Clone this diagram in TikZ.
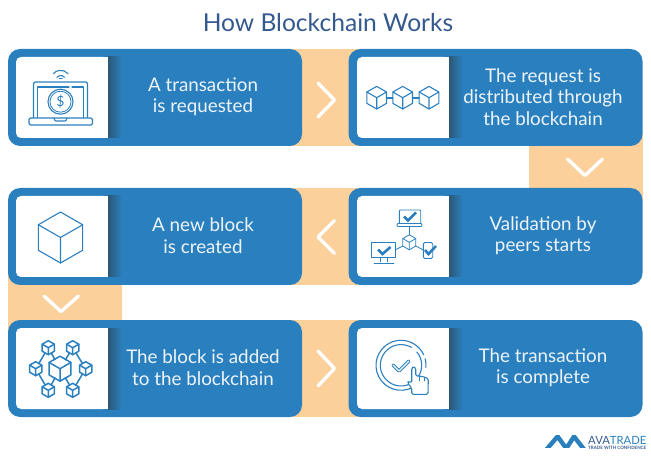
\documentclass[tikz,border=0pt]{standalone}
\usepackage{fontspec}
\setmainfont{Lato}
\usetikzlibrary{backgrounds}
\definecolor{cardblue}{HTML}{2A80BF}
\definecolor{bandorange}{HTML}{FBD09A}
\definecolor{titleblue}{HTML}{34598F}
\definecolor{shadowblue}{HTML}{2C5878}
\definecolor{softwhite}{HTML}{EEF4FA}
\tikzset{
  x=1pt,y=-1pt,
  card/.style={fill=cardblue,rounded corners=12pt,minimum width=294pt,minimum height=97pt,inner sep=0pt},
  cardtext/.style={text=softwhite,align=center,font=\fontsize{18.8}{21.5}\selectfont,inner sep=0pt},
  band/.style={fill=bandorange},
  chev/.style={draw=white,line width=3.4pt,line cap=round,line join=round},
  ink/.style={draw=cardblue,line width=1.1pt,line join=round,line cap=round},
  tick/.style={draw=cardblue,line width=2.6pt,line join=miter},
}
\newcommand{\whitepanel}[2]{%
  \fill[white,rounded corners=5pt] (#1,#2) -- (#1+92,#2) -- (#1+92,#2+81) -- (#1,#2+81) -- cycle;
  \fill[white] (#1+50,#2) rectangle (#1+92,#2+81);
  \shade[left color=shadowblue,right color=cardblue] (#1+92,#2) rectangle (#1+106,#2+81);
}
\newcommand{\hexcube}[4][ink]{%
  \begin{scope}[shift={(#2,#3)},scale=#4]
    \draw[#1] (0,-1) -- (.87,-.5) -- (.87,.5) -- (0,1) -- (-.87,.5) -- (-.87,-.5) -- cycle;
    \draw[#1] (-.87,-.5) -- (0,0) -- (.87,-.5) (0,0) -- (0,1);
  \end{scope}}
\begin{document}
\begin{tikzpicture}
\useasboundingbox (0,0) rectangle (651,457);
% cards
\node[card] (c1) at (155,97.5) {};
\node[card] (c2) at (495.5,97.5) {};
\node[card] (c3) at (495.5,236.5) {};
\node[card] (c4) at (155,236.5) {};
\node[card] (c5) at (155,368.5) {};
\node[card] (c6) at (495.5,368.5) {};
% bands
\begin{scope}[on background layer]
  \fill[white] (0,0) rectangle (651,457);
  \fill[band] ([xshift=-12pt]c1.north east) rectangle ([xshift=49pt]c2.south west);
  \fill[band] ([xshift=-12pt]c4.north east) rectangle ([xshift=49pt]c3.south west);
  \fill[band] ([xshift=-12pt]c5.north east) rectangle ([xshift=49pt]c6.south west);
  \fill[band] ([xshift=-114pt,yshift=12pt]c2.south east) rectangle ([yshift=-12pt]c3.north east);
  \fill[band] ([yshift=12pt]c4.south west) rectangle ([xshift=114pt,yshift=-12pt]c5.north west);
\end{scope}
% panels
\whitepanel{16}{57}
\whitepanel{357}{57}
\whitepanel{357}{196}
\whitepanel{16}{196}
\whitepanel{16}{328}
\whitepanel{357}{328}
% chevrons
\draw[chev] (318,83) -- (334.5,100) -- (318,117);
\draw[chev] (567.5,159) -- (585,175.5) -- (602.5,159);
\draw[chev] (334.5,220.5) -- (318,237) -- (334.5,253.5);
\draw[chev] (44,296) -- (61,311.5) -- (78.5,296);
\draw[chev] (318,351) -- (334.5,368.5) -- (318,386);
% texts
\node (title) at (328,23) [text=titleblue,font=\fontsize{24.6}{28}\selectfont,inner sep=0pt] {How Blockchain Works};
\node[cardtext] (t1) at (203,96.5) {A transaction\\is requested};
\node[cardtext] (t2) at (543,97) {The request is\\distributed through\\the blockchain};
\node[cardtext] (t3) at (543,235.5) {Validation by\\peers starts};
\node[cardtext] (t4) at (203,235.5) {A new block\\is created};
\node[cardtext] (t5) at (203,367.5) {The block is added\\to the blockchain};
\node[cardtext] (t6) at (543,367.5) {The transaction\\is complete};
% icon: laptop
\draw[ink,rounded corners=1.5pt] (33.5,117.5) -- (33.5,82) -- (87.5,82) -- (87.5,117.5);
\draw[ink] (37.5,117.5) -- (37.5,87) -- (69,87) (72,87) -- (83.5,87) -- (83.5,117.5);
\draw[ink,rounded corners=1.5pt] (29,118) rectangle (92.5,125);
\draw[ink,rounded corners=1pt] (54,118) -- (55,121) -- (66,121) -- (67,118);
\draw[ink] (60.5,101.7) circle[radius=12.5pt];
\draw[ink,line width=.8pt] (60.5,101.7) circle[radius=10.5pt];
\node[text=cardblue,font=\fontsize{14}{14}\selectfont,inner sep=0pt] (dollar) at (60.5,101.7) {\$};
\draw[ink] ([shift={(40:5pt)}]60.7,80.5) arc[start angle=40,end angle=140,radius=5pt];
\draw[ink] ([shift={(40:9.7pt)}]60.7,80) arc[start angle=40,end angle=140,radius=9.7pt];
\draw[ink,line width=1.4pt] (59.5,78.5) -- (62,78.5);
% icon: three linked cubes
\hexcube{376.7}{97.7}{11.3}
\hexcube{402.7}{97.7}{11.3}
\hexcube{429}{97.7}{11.3}
\draw[ink] (386.5,98) -- (392.8,98) (412.5,98) -- (419.2,98);
% icon: validation
\draw[ink,line width=.9pt,rounded corners=1pt] (399.3,223.5) -- (399.3,210) -- (420.7,210) -- (420.7,223.5);
\draw[ink,line width=.9pt,rounded corners=1pt] (397,223.5) rectangle (422,226.5);
\draw[tick] (404,216.5) -- (408,220.5) -- (416,212.5);
\hexcube[ink,line width=.8pt]{409.3}{242.3}{7.5}
\draw[ink,line width=.8pt] (409.4,226.5) -- (409.4,234.8) (402.8,246) -- (396,249.5) (415.8,246) -- (423.3,250);
\draw[ink,line width=.9pt] (371.7,242.3) rectangle (395.7,257.3);
\draw[ink,line width=.9pt] (380,257.3) -- (380,262) (387,257.3) -- (387,262) (374,263) -- (394,263);
\draw[tick] (378,249.5) -- (382.5,254) -- (390.5,247);
\draw[ink,line width=.9pt,rounded corners=1.5pt] (423.3,242.5) rectangle (432.7,258.5);
\draw[tick] (425,250) -- (428.5,254) -- (436,246);
% icon: big cube
\hexcube{60.5}{237.5}{25.5}
% icon: network of cubes
\draw[ink,line width=1.5pt] (48.3,347.7) -- (35.7,368.7) -- (48.3,390.3) -- (60,368.7) -- cycle;
\draw[ink,line width=1.5pt] (72.7,347.7) -- (85.7,368.7) -- (72.7,390.3) -- (60,368.7) -- cycle;
\foreach \cx/\cy in {48.3/347.7,72.7/347.7,35.7/368.7,85.7/368.7,48.3/390.3,72.7/390.3}{
  \fill[white] (\cx,\cy) circle[radius=6pt];
  \hexcube[ink,line width=1.5pt]{\cx}{\cy}{7}
}
\fill[white] (60,368.7) circle[radius=10pt];
\hexcube[ink,line width=1.5pt]{60}{368.7}{12.5}
% icon: completed transaction
\draw[ink] ([shift={(-40:25pt)}]401,365.3) arc[start angle=-40,end angle=-335,radius=25pt];
\draw[ink] ([shift={(-5:25pt)}]401,365.3) arc[start angle=-5,end angle=15,radius=25pt];
\draw[ink] ([shift={(-50:20.7pt)}]401,365.3) arc[start angle=-50,end angle=-300,radius=20.7pt];
\draw[ink] ([shift={(-35:20.7pt)}]401,365.3) arc[start angle=-35,end angle=40,radius=20.7pt];
\draw[draw=cardblue,line width=3.4pt,line join=round,line cap=round] (393,365) -- (399,371) -- (409,361);
\draw[draw=white,line width=1.4pt,line join=round,line cap=round] (393,365) -- (399,371) -- (409,361);
\draw[ink,fill=white,rounded corners=1.5pt] (411.7,394.3) -- (411.7,388) -- (407.5,383) -- (408.5,381) -- (411.7,383) -- (411.7,368) -- (413.7,366.5) -- (415.7,368) -- (415.7,376) -- (420,376) -- (424,377) -- (428.3,378.5) -- (428,394.3) -- cycle;
\draw[ink,line width=.7pt] (419.5,376.5) -- (419.5,381) (424,377.5) -- (424,381);
% logo
\begin{scope}
\clip (540,435.7) rectangle (590,447.7);
\draw[draw=cardblue,line width=4.4pt,line join=miter,miter limit=6] (546,450) -- (557.6,436.5) -- (566.3,448.5) -- (574,436.5) -- (584.5,450);
\end{scope}
\node[inner sep=0pt,anchor=base west,font=\fontsize{11.3}{12}\selectfont] (brand) at (588,444.5) {\textcolor{titleblue}{AVA}\textcolor{cardblue}{TRADE}};
\node[inner sep=0pt,anchor=base west,text=titleblue,font=\bfseries\fontsize{4.5}{5}\selectfont] (motto) at (588,449.8) {TRADE WITH CONFIDENCE};
\end{tikzpicture}
\end{document}
